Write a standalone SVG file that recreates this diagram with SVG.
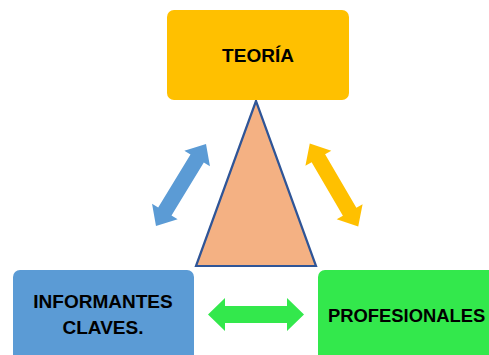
<svg xmlns="http://www.w3.org/2000/svg" width="489" height="355" viewBox="0 0 489 355">
<style>
.lbl{font-family:"Liberation Sans",Arial,sans-serif;font-weight:bold;font-size:19px;fill:#000;text-anchor:middle}
</style>
<rect width="489" height="355" fill="#fff"/>
<g id="triangle">
<polygon points="256,101 196,266 316,266" fill="#F4B183" stroke="#2F5597" stroke-width="2.2" stroke-linejoin="miter"/>
</g>
<g id="teoria">
<rect x="167" y="10" width="182" height="90" rx="7" fill="#FFC000"/>
<text class="lbl" x="258" y="62">TEORÍA</text>
</g>
<g id="informantes">
<rect x="13" y="270" width="181" height="100" rx="7" fill="#5B9BD5"/>
<text class="lbl" x="103" y="308">INFORMANTES</text>
<text class="lbl" x="103" y="334">CLAVES.</text>
</g>
<g id="profesionales">
<rect x="318" y="270" width="200" height="100" rx="7" fill="#33E84C"/>
<text class="lbl" x="328" y="322" style="text-anchor:start;font-size:18.4px">PROFESIONALES</text>
</g>
<g id="connectors">
<polygon transform="translate(181,185) rotate(-58.6)" points="-48,0 -31,-15 -31,-7.8 31,-7.8 31,-15 48,0 31,15 31,7.8 -31,7.8 -31,15" fill="#5B9BD5"/>
<polygon transform="translate(334,185) rotate(59.7)" points="-48,0 -31,-15 -31,-7.8 31,-7.8 31,-15 48,0 31,15 31,7.8 -31,7.8 -31,15" fill="#FFC000"/>
<polygon transform="translate(256,314.5)" points="-48,0 -31,-16.5 -31,-8.5 31,-8.5 31,-16.5 48,0 31,16.5 31,8.5 -31,8.5 -31,16.5" fill="#33E84C"/>
</g>
</svg>
